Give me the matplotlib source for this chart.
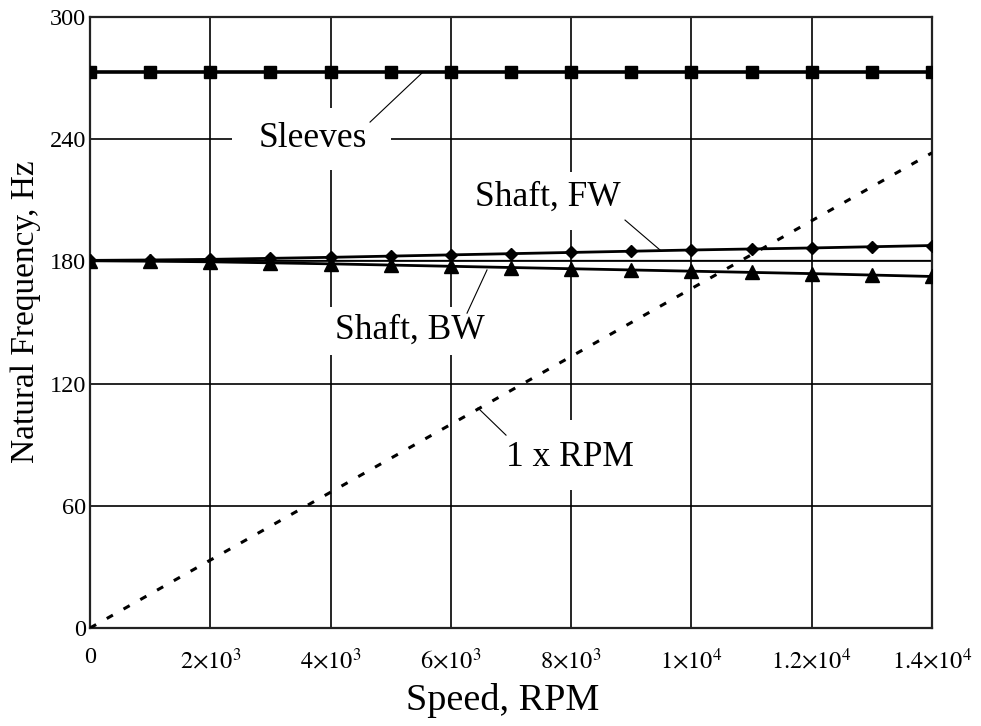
import matplotlib
matplotlib.use("Agg")
import matplotlib.pyplot as plt
from matplotlib.patches import Rectangle
from matplotlib.ticker import FixedLocator, FuncFormatter

# Rotor speed samples (RPM)
speed_rpm = [0, 1000, 2000, 3000, 4000, 5000, 6000, 7000,
             8000, 9000, 10000, 11000, 12000, 13000, 14000]

# Natural frequencies (Hz)
sleeves_hz = [273, 273, 273, 273, 273, 273, 273, 273,
              273, 273, 273, 273, 273, 273, 273]
shaft_fw_hz = [180.5, 180.7, 181.0, 181.5, 182.0, 182.6, 183.2, 183.8,
               184.4, 185.0, 185.6, 186.1, 186.6, 187.2, 187.8]
shaft_bw_hz = [180.3, 180.1, 179.8, 179.3, 178.8, 178.2, 177.6, 177.0,
               176.4, 175.8, 175.2, 174.6, 174.0, 173.3, 172.6]
static_hz = [180.5, 180.5]
static_speed = [0, 14000]

# 1 x RPM excitation line (Hz = RPM / 60)
rpm_line_speed = [0, 14000]
rpm_line_hz = [0, 233.3]

x_ticks = [0, 2000, 4000, 6000, 8000, 10000, 12000, 14000]
x_tick_labels = ["0", r"$2{\times}10^{3}$", r"$4{\times}10^{3}$", r"$6{\times}10^{3}$",
                 r"$8{\times}10^{3}$", r"$1{\times}10^{4}$", r"$1.2{\times}10^{4}$",
                 r"$1.4{\times}10^{4}$"]
y_ticks = [0, 60, 120, 180, 240, 300]

plt.rcParams["font.family"] = ["Liberation Serif", "DejaVu Serif"]
plt.rcParams["mathtext.fontset"] = "stix"

fig = plt.figure(figsize=(9.81, 7.26), dpi=100)
ax = fig.add_axes([90 / 981, 1 - 628 / 726, 842 / 981, 611 / 726])

ax.set_xlim(0, 14000)
ax.set_ylim(0, 300)

ax.xaxis.set_major_locator(FixedLocator(x_ticks))
ax.xaxis.set_major_formatter(FuncFormatter(lambda v, i: x_tick_labels[i] if i is not None and i < len(x_tick_labels) else ""))
ax.yaxis.set_major_locator(FixedLocator(y_ticks))
ax.set_yticklabels([str(v) for v in y_ticks])

ax.tick_params(axis="both", length=0, labelsize=17.5, colors="black")
ax.tick_params(axis="x", pad=14)
ax.tick_params(axis="y", pad=3)

ax.grid(True, color="black", linewidth=1.2, zorder=0)
ax.set_axisbelow(True)
for s in ax.spines.values():
    s.set_linewidth(1.6)
    s.set_color("#222222")

# white boxes behind the curve labels (cut the grid lines)
label_boxes = [
    (2361, 224.8, 2644, 30.5),   # Sleeves
    (6285, 195.4, 2661, 28.5),   # Shaft, FW
    (3575, 134.0, 2877, 23.6),   # Shaft, BW
    (6817, 67.7, 2494, 34.4),    # 1 x RPM
]
for x0, y0, w, h in label_boxes:
    ax.add_patch(Rectangle((x0, y0), w, h, facecolor="white", edgecolor="none", zorder=1))

ax.plot(static_speed, static_hz, color="black", linewidth=0.9, zorder=2)
ax.plot(speed_rpm, sleeves_hz, color="black", linewidth=2.6, marker="s",
        markersize=9, zorder=3)
ax.plot(speed_rpm, shaft_fw_hz, color="black", linewidth=2.0, marker="D",
        markersize=6.5, zorder=3)
ax.plot(speed_rpm, shaft_bw_hz, color="black", linewidth=2.0, marker="^",
        markersize=9.5, zorder=3)
ax.plot(rpm_line_speed, rpm_line_hz, color="black", linewidth=2.2,
        linestyle=(0, (2.3, 4.0)), zorder=3)

# labels with leader lines
labels = [
    ("Sleeves", 3708, 240.5, (4656, 248.4), (5520, 272.5)),
    ("Shaft, FW", 7616, 211.6, (8896, 200.3), (9478, 185.6)),
    ("Shaft, BW", 5321, 146.3, (6269, 154.6), (6601, 175.8)),
    ("1 x RPM", 7981, 83.5, (6917, 94.7), (6452, 108.0)),
]
for txt, tx, ty, p0, p1 in labels:
    ax.text(tx, ty, txt, fontsize=25.5, ha="center", va="center", zorder=5)
    ax.plot([p0[0], p1[0]], [p0[1], p1[1]], color="black", linewidth=0.8, zorder=4)

ax.set_xlabel("Speed, RPM", fontsize=27.5)
ax.xaxis.set_label_coords(0.4905, -0.118)
ax.xaxis.label.set_va("center")
ax.set_ylabel("Natural Frequency, Hz", fontsize=24)
ax.yaxis.set_label_coords(-0.076, 0.517)
ax.yaxis.label.set_va("center")

fig.savefig("out.png", dpi=100)
